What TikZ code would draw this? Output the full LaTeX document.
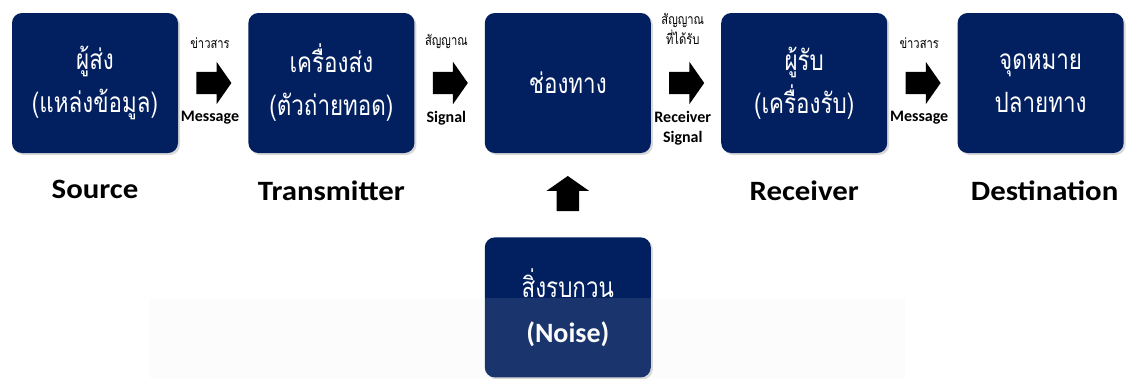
\documentclass[tikz,border=0pt]{standalone}
\usepackage{fontspec}
\setmainfont{Carlito}
\newfontfamily\thaifont[Script=Thai,FakeStretch=0.8]{Loma}
\newfontfamily\labelfont[FakeStretch=1.1]{Carlito}
\usetikzlibrary{positioning,shapes.arrows,shadows}
\definecolor{navy}{RGB}{2,32,96}
\definecolor{haze}{RGB}{229,229,229}

\begin{document}
\begin{tikzpicture}[x=1pt,y=-1pt,node distance=70pt,
    box/.style={rectangle,rounded corners=10pt,fill=navy,text=white,minimum width=166pt,minimum height=140pt,align=center,inner sep=0pt,
        font=\thaifont\fontsize{28}{43}\selectfont,drop shadow={shadow xshift=2pt,shadow yshift=-2pt,opacity=0.3}},
    blockarrow/.style={single arrow,fill=black,inner xsep=0pt,inner ysep=11pt,minimum height=35pt,single arrow head extend=10pt,single arrow tip angle=110},
    thailabel/.style={font=\thaifont\fontsize{14}{20}\selectfont,align=center,inner sep=0pt},
    englabel/.style={font=\bfseries\fontsize{16}{20}\selectfont,align=center,inner sep=0pt},
    biglabel/.style={font=\labelfont\bfseries\fontsize{28}{30}\selectfont,inner sep=0pt}]
    \useasboundingbox (0,0) rectangle (1126,378);
        \node[box] (src) at (95,83) {ผู้ส่ง\\(แหล่งข้อมูล)};
        \node[box] (tx) [right=of src] {เครื่องส่ง\\(ตัวถ่ายทอด)};
        \node[box] (ch) [right=of tx] {ช่องทาง};
        \node[box] (rx) [right=of ch] {ผู้รับ\\(เครื่องรับ)};
        \node[box] (dst) [right=of rx] {จุดหมาย\\ปลายทาง};
        \node[blockarrow] (a1) [right=18pt of src] {};
        \node[blockarrow] (a2) [right=18pt of tx] {};
        \node[blockarrow] (a3) [right=18pt of ch] {};
        \node[blockarrow] (a4) [right=18pt of rx] {};
        \node[thailabel] (t1) [above=23pt of a1] {ข่าวสาร};
        \node[englabel] (e1) [below=17pt of a1] {Message};
        \node[thailabel] (t2) [above=23pt of a2] {สัญญาณ};
        \node[englabel] (e2) [below=17pt of a2] {Signal};
        \node[thailabel] (t3) [above=27pt of a3] {สัญญาณ\\ที่ได้รับ};
        \node[englabel] (e3) [below=17pt of a3] {Receiver\\Signal};
        \node[thailabel] (t4) [above=23pt of a4] {ข่าวสาร};
        \node[englabel] (e4) [below=17pt of a4] {Message};
        \node[biglabel] (l1) [below=27pt of src] {Source};
        \node[biglabel] (l2) [below=27pt of tx] {Transmitter};
        \node[biglabel] (l4) [below=27pt of rx] {Receiver};
        \node[biglabel] (l5) [below=27pt of dst,xshift=4pt] {Destination};
        \node[box] (noise) [below=84pt of ch] {สิ่งรบกวน\\[2pt]{\fontspec{Carlito}\bfseries (Noise)}};
        \node[blockarrow,shape border rotate=90,inner xsep=11pt,inner ysep=0pt] (a5) [above=26pt of noise] {};
        \fill[haze,fill opacity=0.11] (150,298) rectangle (905,378);
    \end{tikzpicture}
\end{document}
